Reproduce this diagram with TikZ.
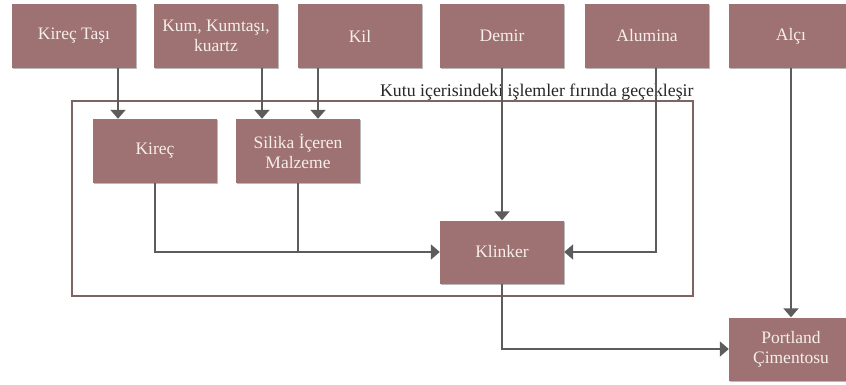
\documentclass[tikz,border=0pt]{standalone}
\usepackage{fontspec}
\setmainfont{Liberation Serif}
\usetikzlibrary{arrows.meta,shadows}

\definecolor{boxfill}{RGB}{158,114,114}
\definecolor{boxtext}{RGB}{246,238,234}
\definecolor{wire}{RGB}{92,92,92}
\definecolor{framec}{RGB}{125,100,100}

\begin{document}
\begin{tikzpicture}[
  x=1pt, y=-1pt,
  box/.style={rectangle, fill=boxfill, minimum width=124pt, minimum height=64pt,
              inner sep=2pt, align=center, text=boxtext, font=\fontsize{17.5}{20}\selectfont,
              drop shadow={shadow xshift=1.2pt, shadow yshift=-1.2pt, opacity=0.45, fill=black!60}},
  arr/.style={draw=wire, line width=2pt, -{Triangle[width=15pt,length=9pt]}},
  wire/.style={draw=wire, line width=2pt},
  frame/.style={draw=framec, line width=1.4pt, minimum width=621pt, minimum height=195pt, inner sep=0pt},
]
  \useasboundingbox (0,0) rectangle (846,385);
  % raw materials
  \node[box] (kt)  at (74,36)  {Kireç Taşı};
  \node[box] (kum) at (216,36) {Kum, Kumtaşı,\\kuartz};
  \node[box] (kil) at (360,36) {Kil};
  \node[box] (dem) at (502,36) {Demir};
  \node[box] (alu) at (647,36) {Alumina};
  \node[box] (alc) at (791,36) {Alçı};
  % kiln box
  \node[frame] (fr) at (382.5,198.5) {};
  \node[anchor=base east, inner sep=0pt, font=\fontsize{17.8}{20}\selectfont, text=black!85]
    at ([yshift=4pt]fr.north east) {Kutu içerisindeki işlemler fırında geçekleşir};
  \node[box] (kir) at (155,151) {Kireç};
  \node[box] (sil) at (298,151) {Silika İçeren\\Malzeme};
  \node[box, minimum height=63pt] (kl) at (502,252) {Klinker};
  \node[box, minimum height=63pt] (pc) at (791,349) {Portland\\Çimentosu};
  % connectors
  \draw[arr] ([xshift=44pt]kt.south) -- ([xshift=44pt]kt.south |- kir.north);
  \draw[arr] ([xshift=46pt]kum.south) -- ([xshift=46pt]kum.south |- sil.north);
  \draw[arr] ([xshift=-42pt]kil.south) -- ([xshift=-42pt]kil.south |- sil.north);
  \draw[arr] (dem.south) -- (kl.north);
  \draw[arr] ([xshift=9pt]alu.south) |- (kl.east);
  \draw[arr] (kir.south) |- (kl.west);
  \draw[wire] (sil.south) -- (sil.south |- kl.west);
  \draw[arr] (kl.south) |- (pc.west);
  \draw[arr] (alc.south) -- (pc.north);
\end{tikzpicture}
\end{document}
